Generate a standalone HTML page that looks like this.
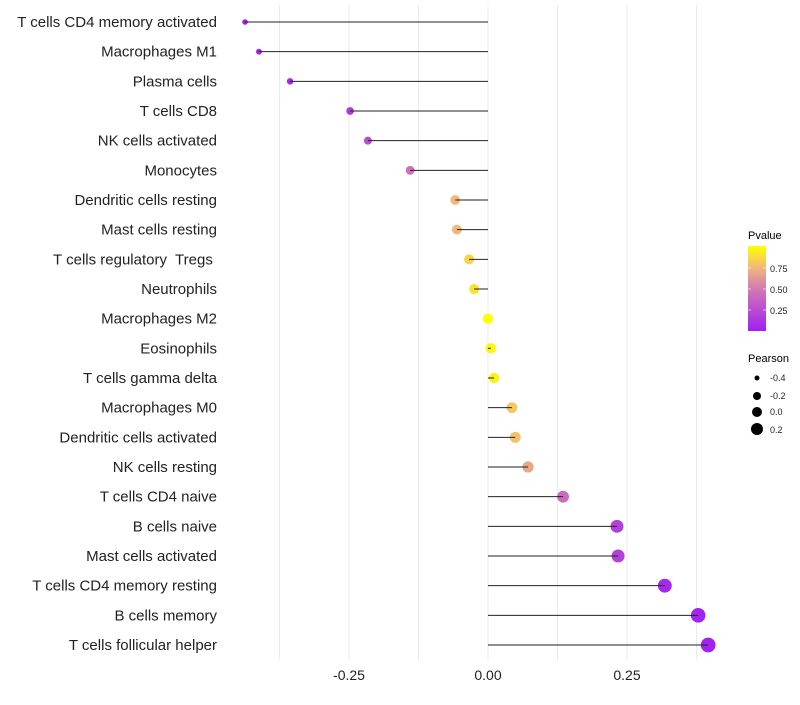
<!DOCTYPE html>
<html><head><meta charset="utf-8"><style>
body{margin:0;background:#fff;font-family:"Liberation Sans",sans-serif}
text{white-space:pre}
</style></head><body>
<svg id="chart" width="800" height="700" xmlns="http://www.w3.org/2000/svg">
<defs><linearGradient id="pg" x1="0" y1="1" x2="0" y2="0">
<stop offset="0" stop-color="#a020f0"/><stop offset="0.5" stop-color="#d27ab4"/><stop offset="0.75" stop-color="#f2b878"/><stop offset="1" stop-color="#ffff00"/>
</linearGradient></defs>
<g id="grid"></g><g id="marks"></g><g id="labels"></g>
<g font-size="10">
<text x="748" y="239" font-size="11" fill="#000">Pvalue</text>
<rect x="748" y="246" width="18" height="85" fill="url(#pg)"/>
<g stroke="#fff" stroke-opacity="0.6"><line x1="748" x2="751" y1="268" y2="268"/><line x1="763" x2="766" y1="268" y2="268"/><line x1="748" x2="751" y1="289" y2="289"/><line x1="763" x2="766" y1="289" y2="289"/><line x1="748" x2="751" y1="310" y2="310"/><line x1="763" x2="766" y1="310" y2="310"/></g>
<text x="770" y="272" fill="#222" font-size="9">0.75</text>
<text x="770" y="293" fill="#222" font-size="9">0.50</text>
<text x="770" y="314" fill="#222" font-size="9">0.25</text>
</g>
<g>
<text x="748" y="362" font-size="11" fill="#000">Pearson</text>
<circle cx="757" cy="378" r="2.5"/><text x="770" y="381" font-size="9" fill="#222">-0.4</text>
<circle cx="757" cy="396" r="4"/><text x="770" y="399" font-size="9" fill="#222">-0.2</text>
<circle cx="757" cy="412" r="5"/><text x="770" y="415" font-size="9" fill="#222">0.0</text>
<circle cx="757" cy="429" r="6"/><text x="770" y="433" font-size="9" fill="#222">0.2</text>
</g>
</svg>
<script>
const categories=["T cells CD4 memory activated","Macrophages M1","Plasma cells","T cells CD8","NK cells activated","Monocytes","Dendritic cells resting","Mast cells resting","T cells regulatory  Tregs ","Neutrophils","Macrophages M2","Eosinophils","T cells gamma delta","Macrophages M0","Dendritic cells activated","NK cells resting","T cells CD4 naive","B cells naive","Mast cells activated","T cells CD4 memory resting","B cells memory","T cells follicular helper"];
const pearson=[-0.437,-0.412,-0.356,-0.248,-0.216,-0.140,-0.059,-0.056,-0.034,-0.025,0.0,0.005,0.011,0.043,0.049,0.072,0.135,0.232,0.234,0.318,0.378,0.396];
const pvalue=[0.01,0.02,0.05,0.15,0.25,0.45,0.75,0.75,0.85,0.9,1.0,0.97,0.95,0.8,0.78,0.68,0.42,0.18,0.18,0.05,0.02,0.01];
const xTicks=[-0.25,0,0.25];
const xTickLabels=["-0.25","0.00","0.25"];
const gridVals=[-0.375,-0.25,-0.125,0,0.125,0.25,0.375];
const NS="http://www.w3.org/2000/svg";
const x=v=>488+v*556;
const y=i=>22+i*(623/21);
const stops=[[0,[160,32,240]],[0.5,[210,122,180]],[0.75,[242,184,120]],[1,[255,255,0]]];
function col(p){for(let k=1;k<stops.length;k++){if(p<=stops[k][0]){const a=stops[k-1],b=stops[k],t=(p-a[0])/(b[0]-a[0]);return "rgb("+a[1].map((c,j)=>Math.round(c+(b[1][j]-c)*t)).join(",")+")";}}return "rgb(255,255,0)";}
function mk(t,at,parent){const e=document.createElementNS(NS,t);for(const k in at)e.setAttribute(k,at[k]);parent.appendChild(e);return e;}
const grid=document.getElementById('grid'),marks=document.getElementById('marks'),labels=document.getElementById('labels');
gridVals.forEach(v=>{const l=mk('line',{x1:x(v),x2:x(v),y1:5,y2:660,stroke:'#ebebeb','stroke-width':1},grid);

});
xTicks.forEach((v,i)=>{const t=mk('text',{x:x(v),y:680,'text-anchor':'middle','font-size':14,fill:'#222'},labels);t.textContent=xTickLabels[i];

});
categories.forEach((c,i)=>{
const r=Math.max(2,5.2+5.5*pearson[i]);
const d=mk('circle',{cx:x(pearson[i]),cy:y(i),r:r,fill:col(pvalue[i])},marks);


const l=mk('line',{x1:x(0),x2:x(pearson[i]),y1:y(i),y2:y(i),stroke:'#222','stroke-width':1},marks);


const t=mk('text',{x:217,y:y(i)+5,'text-anchor':'end','font-size':15,fill:'#222'},labels);t.textContent=c;


});
</script>
</body></html>
